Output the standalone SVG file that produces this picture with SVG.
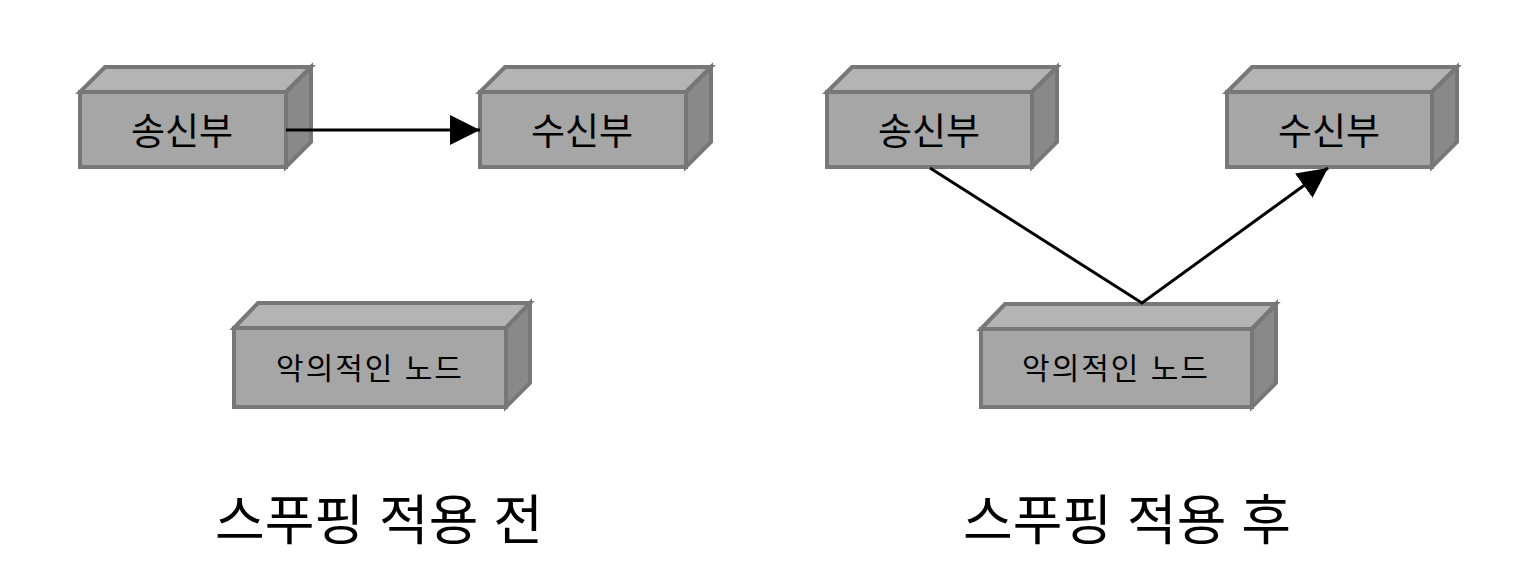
<svg xmlns="http://www.w3.org/2000/svg" width="1536" height="580" viewBox="0 0 1536 580">
<style>
.front{fill:#a6a6a6;stroke:#777;stroke-width:4;stroke-linejoin:miter}
.top{fill:#b4b4b4;stroke:#777;stroke-width:4;stroke-linejoin:miter}
.side{fill:#898989;stroke:#777;stroke-width:4;stroke-linejoin:miter}
.lbl{font-family:"Liberation Sans","Noto Sans CJK KR",sans-serif;fill:#000;text-anchor:middle}
.big{font-size:37px}
.small{font-size:30px;letter-spacing:2px}
.title{font-family:"Liberation Sans","Noto Sans CJK KR",sans-serif;font-size:54px;fill:#000;text-anchor:middle}
.conn{stroke:#000;stroke-width:3;fill:none}
</style>
<defs>
<marker id="arr" markerWidth="30" markerHeight="30" refX="30" refY="15" orient="auto" markerUnits="userSpaceOnUse" viewBox="0 0 30 30">
<path d="M0,0 L30,15 L0,30 z" fill="#000"/>
</marker>
</defs>
<rect width="1536" height="580" fill="#fff"/>

<g id="sender-before">
<polygon class="top" points="80,92 105,67 311,67 286,92"/>
<polygon class="side" points="286,92 311,67 311,142 286,167"/>
<rect class="front" x="80" y="92" width="206" height="75"/>
<text class="lbl big" x="182" y="145">송신부</text>
</g>
<g id="receiver-before">
<polygon class="top" points="480,92 505,67 711,67 686,92"/>
<polygon class="side" points="686,92 711,67 711,142 686,167"/>
<rect class="front" x="480" y="92" width="206" height="75"/>
<text class="lbl big" x="582" y="145">수신부</text>
</g>
<g id="malicious-before">
<polygon class="top" points="234,328 258,303 530,303 506,328"/>
<polygon class="side" points="506,328 530,303 530,383 506,407"/>
<rect class="front" x="234" y="328" width="272" height="79"/>
<text class="lbl small" x="370" y="379">악의적인 노드</text>
</g>

<g id="sender-after">
<polygon class="top" points="827,92 852,67 1057,67 1032,92"/>
<polygon class="side" points="1032,92 1057,67 1057,142 1032,167"/>
<rect class="front" x="827" y="92" width="205" height="75"/>
<text class="lbl big" x="929" y="145">송신부</text>
</g>
<g id="receiver-after">
<polygon class="top" points="1227,92 1252,67 1457,67 1432,92"/>
<polygon class="side" points="1432,92 1457,67 1457,142 1432,167"/>
<rect class="front" x="1227" y="92" width="205" height="75"/>
<text class="lbl big" x="1329" y="145">수신부</text>
</g>
<g id="malicious-after">
<polygon class="top" points="981,329 1005,304 1276,304 1252,329"/>
<polygon class="side" points="1252,329 1276,304 1276,383 1252,407"/>
<rect class="front" x="981" y="329" width="271" height="78"/>
<text class="lbl small" x="1116" y="379">악의적인 노드</text>
</g>

<g id="connectors">
<line class="conn" x1="286" y1="130" x2="480" y2="130" marker-end="url(#arr)"/>
<polyline class="conn" points="930,168 1142,303 1328,168" marker-end="url(#arr)"/>
</g>

<text class="title" x="379" y="540">스푸핑 적용 전</text>
<text class="title" x="1127" y="540">스푸핑 적용 후</text>
</svg>
